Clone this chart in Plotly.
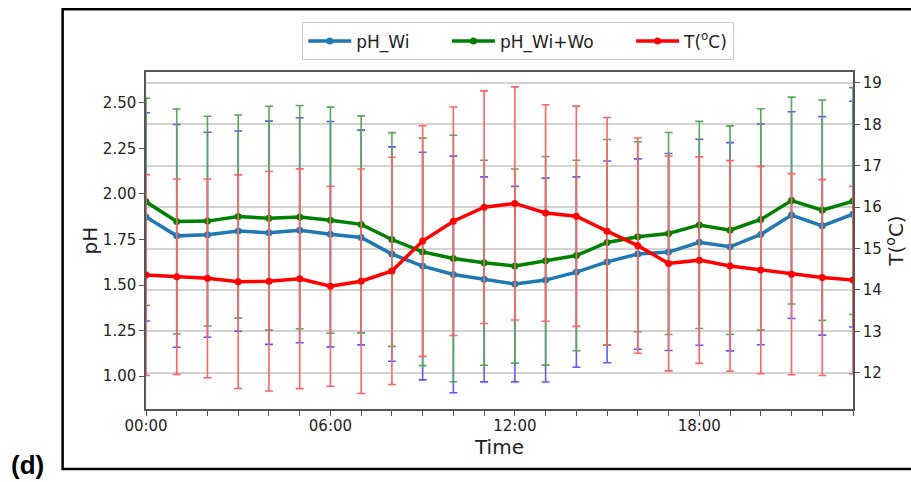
import plotly.graph_objects as go

# ---------------- data ----------------
hours = list(range(24))
x_tick_vals = [0, 6, 12, 18]
x_tick_labels = ["00:00", "06:00", "12:00", "18:00"]

ph_wi_mean = [1.874, 1.770, 1.776, 1.796, 1.787, 1.801, 1.779, 1.761, 1.670, 1.604,
              1.558, 1.531, 1.505, 1.527, 1.571, 1.627, 1.670, 1.681, 1.735, 1.710,
              1.778, 1.884, 1.825, 1.889]
ph_wi_std = [0.572, 0.612, 0.563, 0.550, 0.613, 0.618, 0.619, 0.590, 0.589, 0.625,
             0.650, 0.563, 0.537, 0.560, 0.523, 0.554, 0.523, 0.541, 0.566, 0.572,
             0.606, 0.568, 0.600, 0.620]

ph_wiwo_mean = [1.957, 1.849, 1.851, 1.876, 1.867, 1.873, 1.856, 1.833, 1.750, 1.682,
                1.646, 1.622, 1.604, 1.633, 1.662, 1.734, 1.765, 1.783, 1.830, 1.801,
                1.860, 1.964, 1.911, 1.961]
ph_wiwo_std = [0.569, 0.618, 0.576, 0.558, 0.615, 0.613, 0.621, 0.596, 0.587, 0.625,
               0.677, 0.563, 0.533, 0.573, 0.523, 0.565, 0.522, 0.555, 0.569, 0.573,
               0.608, 0.568, 0.605, 0.623]

temp_mean = [14.36, 14.32, 14.28, 14.20, 14.21, 14.27, 14.09, 14.21, 14.46, 15.18,
             15.66, 16.00, 16.09, 15.86, 15.78, 15.42, 15.07, 14.64, 14.72, 14.58,
             14.48, 14.38, 14.30, 14.24]
temp_std = [2.425, 2.360, 2.400, 2.580, 2.650, 2.655, 2.415, 2.710, 2.745, 2.785,
            2.760, 2.810, 2.815, 2.615, 2.660, 2.745, 2.600, 2.595, 2.495, 2.545,
            2.505, 2.430, 2.365, 2.265]

ph_ticks = [1.00, 1.25, 1.50, 1.75, 2.00, 2.25, 2.50]
temp_ticks = [12, 13, 14, 15, 16, 17, 18, 19]

# ---------------- layout geometry ----------------
W, H = 911, 482
ML, MR, MT, MB = 145.5, 57.5, 71.7, 73
PW = W - ML - MR
PH = H - MT - MB


def px(x):
    return (x - ML) / PW


def py(y):
    return (H - MB - y) / PH


FONT = "DejaVu Sans"
AXC = "#555555"
NB = "\u00a0" * 6

fig = go.Figure()

fig.add_trace(go.Scatter(
    x=hours, y=ph_wi_mean, mode="lines+markers", name="pH_Wi" + NB,
    line=dict(color="#1f77b4", width=3.5),
    marker=dict(size=7, color="#1f77b4"),
    error_y=dict(type="data", array=ph_wi_std, color="#5a5aff",
                 thickness=1.6, width=4),
))
fig.add_trace(go.Scatter(
    x=hours, y=ph_wiwo_mean, mode="lines+markers", name="pH_Wi+Wo" + NB,
    line=dict(color="#008000", width=3.5),
    marker=dict(size=7, color="#008000"),
    error_y=dict(type="data", array=ph_wiwo_std, color="#55aa55",
                 thickness=1.6, width=4),
))
fig.add_trace(go.Scatter(
    x=hours, y=temp_mean, mode="lines+markers", name="T(<sup>o</sup>C)", yaxis="y2",
    line=dict(color="#ff0000", width=3.5),
    marker=dict(size=7, color="#ff0000"),
    error_y=dict(type="data", array=temp_std, color="#ff6464",
                 thickness=1.6, width=4),
))

fig.update_layout(
    width=W, height=H,
    margin=dict(l=ML, r=MR, t=MT, b=MB, autoexpand=False),
    paper_bgcolor="white", plot_bgcolor="white",
    font=dict(family=FONT, size=15, color="#222222"),
    xaxis=dict(
        range=[0, 23], tickmode="array", tickvals=x_tick_vals, ticktext=x_tick_labels,
        ticks="outside", ticklen=5, tickcolor=AXC, showline=True, mirror=True,
        linecolor=AXC, linewidth=1.5, showgrid=False, zeroline=False,
        minor=dict(dtick=1, tick0=0, ticks="outside", ticklen=5, tickcolor=AXC,
                   showgrid=False),
        tickfont=dict(size=15), ticklabelstandoff=-3,
        title=dict(text="Time", font=dict(size=20), standoff=1),
    ),
    yaxis=dict(
        range=[0.819, 2.670], tickmode="array", tickvals=ph_ticks,
        ticktext=[f"{v:.2f}" for v in ph_ticks],
        ticks="outside", ticklen=5, tickcolor=AXC, showline=True,
        linecolor=AXC, linewidth=1.5, showgrid=False, zeroline=False,
        tickfont=dict(size=15),
        title=dict(text="pH", font=dict(size=20), standoff=0),
    ),
    yaxis2=dict(
        range=[11.124, 19.265], overlaying="y", side="right", tickmode="array",
        tickvals=temp_ticks, ticks="outside", ticklen=5, tickcolor=AXC,
        showline=True, linecolor=AXC, linewidth=1.5, showgrid=True,
        gridcolor="#d3d3d3", gridwidth=1.5, zeroline=False,
        tickfont=dict(size=15),
        title=dict(text="T(<sup>o</sup>C)", font=dict(size=20), standoff=2),
    ),
    legend=dict(
        orientation="h", x=px(302), xanchor="left", y=py(22), yanchor="top",
        bordercolor="#cccccc", borderwidth=1, bgcolor="white", itemwidth=43,
        font=dict(size=17, family=FONT, color="#222222"),
    ),
    showlegend=True,
    shapes=[
        dict(type="rect", xref="paper", yref="paper",
             x0=px(62), x1=px(930), y0=py(469), y1=py(9),
             line=dict(color="black", width=2.5), fillcolor="rgba(0,0,0,0)"),
    ],
    annotations=[
        dict(text="<b>(d)</b>", xref="paper", yref="paper", x=px(27), y=py(465),
             xanchor="center", yanchor="middle", showarrow=False,
             font=dict(family="Liberation Sans", size=26, color="black")),
    ],
)

fig.write_html("out.html",
               config={"displayModeBar": False},
               post_script="document.body.style.margin='0';document.body.style.padding='0';")
